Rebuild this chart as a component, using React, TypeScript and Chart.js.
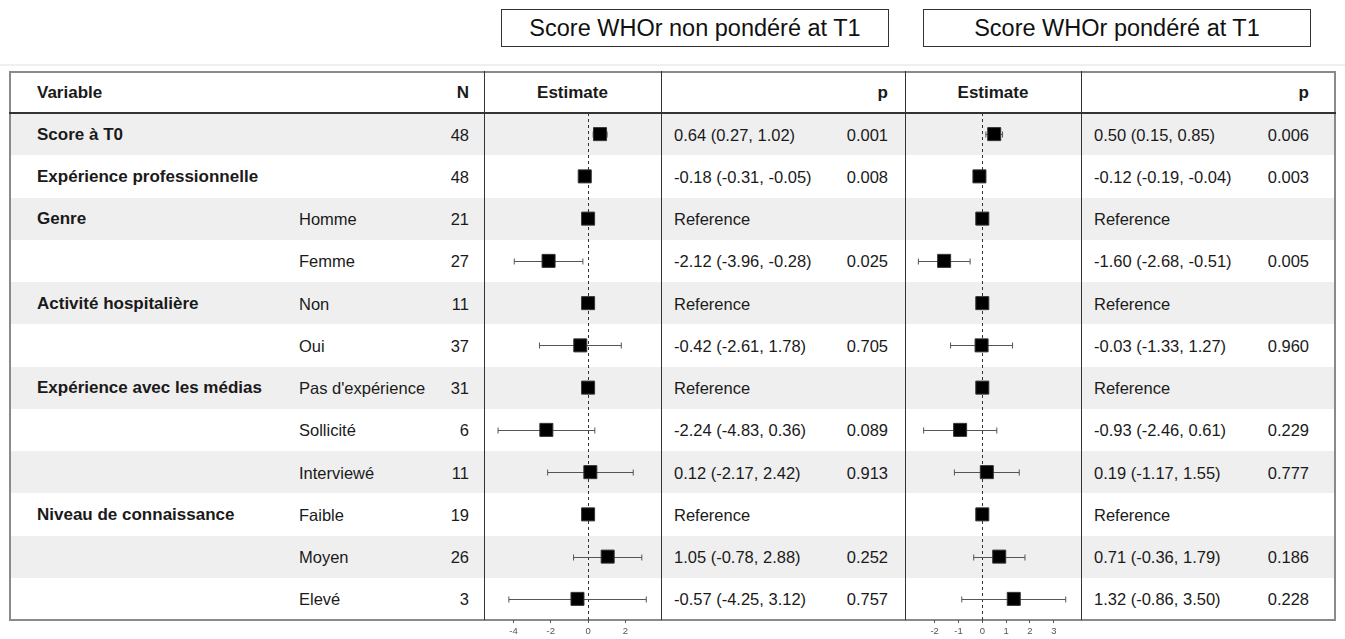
import React, { useEffect, useRef } from "react";
import { Chart, registerables } from "chart.js";

Chart.register(...registerables);

// ---------- data ----------
const variables = [
  "Score à T0",
  "Expérience professionnelle",
  "Genre",
  "",
  "Activité hospitalière",
  "",
  "Expérience avec les médias",
  "",
  "",
  "Niveau de connaissance",
  "",
  "",
];
const levels = ["", "", "Homme", "Femme", "Non", "Oui", "Pas d'expérience", "Sollicité", "Interviewé", "Faible", "Moyen", "Elevé"];
const counts = [48, 48, 21, 27, 11, 37, 31, 6, 11, 19, 26, 3];
const isReference = [false, false, true, false, true, false, true, false, false, true, false, false];

const est1 = [0.64, -0.18, 0, -2.12, 0, -0.42, 0, -2.24, 0.12, 0, 1.05, -0.57];
const lo1 = [0.27, -0.31, null, -3.96, null, -2.61, null, -4.83, -2.17, null, -0.78, -4.25];
const hi1 = [1.02, -0.05, null, -0.28, null, 1.78, null, 0.36, 2.42, null, 2.88, 3.12];
const p1 = ["0.001", "0.008", "", "0.025", "", "0.705", "", "0.089", "0.913", "", "0.252", "0.757"];

const est2 = [0.5, -0.12, 0, -1.6, 0, -0.03, 0, -0.93, 0.19, 0, 0.71, 1.32];
const lo2 = [0.15, -0.19, null, -2.68, null, -1.33, null, -2.46, -1.17, null, -0.36, -0.86];
const hi2 = [0.85, -0.04, null, -0.51, null, 1.27, null, 0.61, 1.55, null, 1.79, 3.5];
const p2 = ["0.006", "0.003", "", "0.005", "", "0.960", "", "0.229", "0.777", "", "0.186", "0.228"];

const ticks1 = [-4, -2, 0, 2];
const ticks2 = [-2, -1, 0, 1, 2, 3];
const range1 = [-5.53, 3.91];
const range2 = [-3.2, 4.14];

const title1 = "Score WHOr non pondéré at T1";
const title2 = "Score WHOr pondéré at T1";

// ---------- layout ----------
const FONT = '"Liberation Sans", Arial, sans-serif';
const TABLE_LEFT = 9;
const TABLE_RIGHT = 1336;
const TABLE_TOP = 71;
const HEADER_BOTTOM = 113;
const TABLE_BOTTOM = 620;
const ROW_H = (TABLE_BOTTOM - HEADER_BOTTOM) / 12;
const TEXT_COLOR = "#1a1a1a";
const FS = 16.5;
const FS_BOLD = 17;

function fmt(i: number, est: number[], lo: (number | null)[], hi: (number | null)[]) {
  if (isReference[i]) return "Reference";
  return `${est[i].toFixed(2)} (${(lo[i] as number).toFixed(2)}, ${(hi[i] as number).toFixed(2)})`;
}

type ForestProps = {
  left: number;
  width: number;
  est: number[];
  lo: (number | null)[];
  hi: (number | null)[];
  ticks: number[];
  range: number[];
};

function Forest({ left, width, est, lo, hi, ticks, range }: ForestProps) {
  const ref = useRef<HTMLCanvasElement | null>(null);
  useEffect(() => {
    const whiskers = {
      id: "whiskers",
      beforeDatasetsDraw(chart: any) {
        const { ctx, chartArea, scales } = chart;
        const x = scales.x;
        const y = scales.y;
        ctx.save();
        const x0 = Math.round(x.getPixelForValue(0)) + 0.5;
        ctx.strokeStyle = "#333";
        ctx.lineWidth = 1;
        ctx.setLineDash([3, 3]);
        ctx.beginPath();
        ctx.moveTo(x0, chartArea.top);
        ctx.lineTo(x0, chartArea.bottom);
        ctx.stroke();
        ctx.setLineDash([]);
        ctx.strokeStyle = "#555";
        for (let i = 0; i < est.length; i++) {
          if (lo[i] == null || hi[i] == null) continue;
          const yy = Math.round(y.getPixelForValue(i)) + 0.5;
          const xa = x.getPixelForValue(lo[i]);
          const xb = x.getPixelForValue(hi[i]);
          ctx.beginPath();
          ctx.moveTo(xa, yy);
          ctx.lineTo(xb, yy);
          ctx.moveTo(xa, yy - 3);
          ctx.lineTo(xa, yy + 3);
          ctx.moveTo(xb, yy - 3);
          ctx.lineTo(xb, yy + 3);
          ctx.stroke();
        }
        ctx.restore();
      },
    };
    const chart = new Chart(ref.current as HTMLCanvasElement, {
      type: "scatter",
      data: {
        datasets: [
          {
            data: est.map((v, i) => ({ x: v, y: i })),
            pointStyle: "rect",
            pointRadius: 9.2,
            backgroundColor: "#000",
            borderColor: "#333",
            borderWidth: 1,
            clip: false,
          },
        ],
      },
      options: {
        animation: false,
        responsive: false,
        events: [],
        layout: { padding: 0, autoPadding: false },
        plugins: { legend: { display: false }, tooltip: { enabled: false } },
        scales: {
          x: {
            type: "linear",
            min: range[0],
            max: range[1],
            afterBuildTicks: (s: any) => {
              s.ticks = ticks.map((v) => ({ value: v }));
            },
            afterFit: (s: any) => {
              s.height = 639 - TABLE_BOTTOM;
            },
            border: { display: false },
            grid: { drawOnChartArea: false, drawTicks: true, tickLength: 3, tickColor: "#555" },
            ticks: {
              font: { size: 9.5, family: FONT },
              color: "#555",
              padding: 3,
              maxRotation: 0,
              autoSkip: false,
              callback: (v: any) => String(v),
            },
          },
          y: { type: "linear", min: -0.5, max: 11.5, reverse: true, display: false },
        },
      } as any,
      plugins: [whiskers],
    });
    return () => chart.destroy();
  }, []);
  return (
    <canvas
      ref={ref}
      width={width}
      height={639 - HEADER_BOTTOM}
      style={{ position: "absolute", left, top: HEADER_BOTTOM, width, height: 639 - HEADER_BOTTOM }}
    />
  );
}

function Txt({ x, y, text, align = "left", bold = false }: { x: number; y: number; text: string; align?: string; bold?: boolean }) {
  const w = 400;
  let left = x;
  if (align === "right") left = x - w;
  if (align === "center") left = x - w / 2;
  return (
    <div
      style={{
        position: "absolute",
        left,
        top: y - 12,
        width: w,
        height: 24,
        lineHeight: "24px",
        textAlign: align as any,
        fontWeight: bold ? "bold" : "normal",
        fontSize: bold ? FS_BOLD : FS,
        fontFamily: FONT,
        color: TEXT_COLOR,
        whiteSpace: "nowrap",
      }}
    >
      {text}
    </div>
  );
}

function Line({ x, y, w, h, c }: { x: number; y: number; w: number; h: number; c: string }) {
  return <div style={{ position: "absolute", left: x, top: y, width: w, height: h, background: c }} />;
}

function TitleBox({ left, text }: { left: number; text: string }) {
  return (
    <div
      style={{
        position: "absolute",
        left,
        top: 9,
        width: 388,
        height: 38,
        boxSizing: "border-box",
        border: "1px solid #333",
        fontFamily: FONT,
        fontSize: 23.5,
        lineHeight: "36px",
        textAlign: "center",
        color: "#111",
        whiteSpace: "nowrap",
      }}
    >
      {text}
    </div>
  );
}

export default function App() {
  const rowCenter = (i: number) => HEADER_BOTTOM + ROW_H * (i + 0.5);
  const vlines = [484, 661, 905, 1081];
  return (
    <div style={{ position: "fixed", left: 0, top: 0, width: 1345, height: 639, background: "#fff", overflow: "hidden" }}>
      <TitleBox left={501} text={title1} />
      <TitleBox left={923} text={title2} />
      <Line x={0} y={64} w={1345} h={2} c="#efefef" />

      {/* row bands */}
      {variables.map((_, i) =>
        i % 2 === 0 ? (
          <div
            key={"b" + i}
            style={{
              position: "absolute",
              left: TABLE_LEFT,
              top: HEADER_BOTTOM + ROW_H * i,
              width: TABLE_RIGHT - TABLE_LEFT,
              height: ROW_H,
              background: "#efefef",
            }}
          />
        ) : null
      )}

      {/* borders */}
      <div
        style={{
          position: "absolute",
          left: TABLE_LEFT,
          top: TABLE_TOP,
          width: TABLE_RIGHT - TABLE_LEFT,
          height: TABLE_BOTTOM - TABLE_TOP + 1,
          boxSizing: "border-box",
          border: "2px solid #8a8a8a",
        }}
      />
      <Line x={TABLE_LEFT} y={HEADER_BOTTOM - 1} w={TABLE_RIGHT - TABLE_LEFT} h={1.5} c="#333" />
      {vlines.map((x) => (
        <Line key={"v" + x} x={x} y={TABLE_TOP} w={1} h={TABLE_BOTTOM - TABLE_TOP} c="#333" />
      ))}

      {/* header */}
      <Txt x={37} y={93} text="Variable" bold />
      <Txt x={469} y={93} text="N" bold align="right" />
      <Txt x={572.5} y={93} text="Estimate" bold align="center" />
      <Txt x={888} y={93} text="p" bold align="right" />
      <Txt x={993} y={93} text="Estimate" bold align="center" />
      <Txt x={1309} y={93} text="p" bold align="right" />

      {/* rows */}
      {variables.map((v, i) => (
        <React.Fragment key={"r" + i}>
          {v ? <Txt x={37} y={rowCenter(i) + 0.5} text={v} bold /> : null}
          {levels[i] ? <Txt x={299} y={rowCenter(i) + 0.5} text={levels[i]} /> : null}
          <Txt x={469} y={rowCenter(i) + 0.5} text={String(counts[i])} align="right" />
          <Txt x={674} y={rowCenter(i) + 0.5} text={fmt(i, est1, lo1, hi1)} />
          {p1[i] ? <Txt x={888} y={rowCenter(i) + 0.5} text={p1[i]} align="right" /> : null}
          <Txt x={1094} y={rowCenter(i) + 0.5} text={fmt(i, est2, lo2, hi2)} />
          {p2[i] ? <Txt x={1309} y={rowCenter(i) + 0.5} text={p2[i]} align="right" /> : null}
        </React.Fragment>
      ))}

      {/* forest panels */}
      <Forest left={485} width={176} est={est1} lo={lo1} hi={hi1} ticks={ticks1} range={range1} />
      <Forest left={906} width={175} est={est2} lo={lo2} hi={hi2} ticks={ticks2} range={range2} />
    </div>
  );
}
